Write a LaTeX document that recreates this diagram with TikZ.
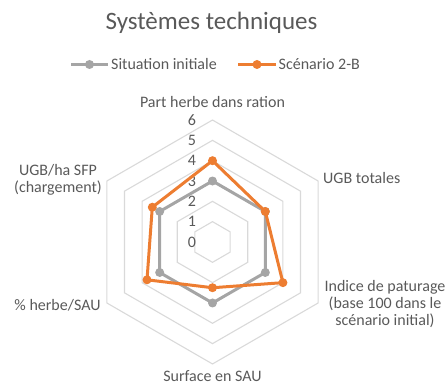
\documentclass[tikz,border=0pt]{standalone}
\usepackage{fontspec}
\setmainfont{Carlito}
\usetikzlibrary{calc}
\definecolor{txt}{HTML}{595959}
\definecolor{grid}{HTML}{D9D9D9}
\definecolor{sinit}{HTML}{A5A5A5}
\definecolor{scen}{HTML}{ED7D31}
\begin{document}
\begin{tikzpicture}[x=1pt,y=1pt,
  lbl/.style={text=txt,font=\fontsize{16}{17}\selectfont,inner sep=0pt,align=center},
  tick/.style={text=txt,font=\fontsize{16}{17}\selectfont,inner sep=0pt},
  gridline/.style={draw=grid,line width=1.1pt,line join=miter},
  series/.style={line width=3pt,line join=round,line cap=round},
  dot/.style={circle,inner sep=0pt,minimum size=9pt}]
\useasboundingbox (0,0) rectangle (448,387);
\def\u{20.33}
\coordinate (o) at (212.5,145);

% grid hexagons
\foreach \k in {1,...,6}
  \draw[gridline] ($(o)+(90:\k*\u)$) -- ($(o)+(30:\k*\u)$) -- ($(o)+(-30:\k*\u)$)
     -- ($(o)+(-90:\k*\u)$) -- ($(o)+(-150:\k*\u)$) -- ($(o)+(150:\k*\u)$) -- cycle;

% radial scale
\foreach \k in {0,...,6}
  \node[tick] (t\k) at ($(o)+(-20.5,\k*\u)$) {\k};

% data series
\foreach \a/\v [count=\i] in {90/3,30/3,-30/3,-90/3,-150/3,150/3}
  \coordinate (g\i) at ($(o)+(\a:\v*\u)$);
\foreach \a/\v [count=\i] in {90/4,30/3,-30/4,-90/2.25,-150/3.72,150/3.42}
  \coordinate (s\i) at ($(o)+(\a:\v*\u)$);

\draw[series,sinit] (g1) -- (g2) -- (g3) -- (g4) -- (g5) -- (g6) -- cycle;
\foreach \i in {1,...,6} \node[dot,fill=sinit] (gm\i) at (g\i) {};
\draw[series,scen] (s1) -- (s2) -- (s3) -- (s4) -- (s5) -- (s6) -- cycle;
\foreach \i in {1,...,6} \node[dot,fill=scen] (sm\i) at (s\i) {};

% category labels
\node[lbl] (c1) at (212.5,285) {Part herbe dans ration};
\node[lbl,anchor=west] (c2) at (323,209) {UGB totales};
\node[lbl] (c3) at (385,83) {Indice de paturage\\(base 100 dans le\\scénario initial)};
\node[lbl] (c4) at (212.5,10.5) {Surface en SAU};
\node[lbl] (c5) at (57.5,82) {\% herbe/SAU};
\node[lbl] (c6) at (58,207) {UGB/ha SFP\\(chargement)};

% title
\node[text=txt,font=\fontsize{25}{29}\selectfont,inner sep=0pt] (title) at (211.5,364) {Systèmes techniques};

% legend
\coordinate (la) at (71,322.5);
\coordinate (lb) at (108,322.5);
\draw[series,sinit,line cap=butt] (la) -- (lb);
\node[dot,fill=sinit] (lm1) at ($(la)!0.5!(lb)$) {};
\node[lbl,anchor=west] (l1) at (111,322.5) {Situation initiale};
\coordinate (lc) at (238,322.5);
\coordinate (ld) at (276,322.5);
\draw[series,scen,line cap=butt] (lc) -- (ld);
\node[dot,fill=scen] (lm2) at ($(lc)!0.5!(ld)$) {};
\node[lbl,anchor=west] (l2) at (278.5,322.5) {Scénario 2-B};
\end{tikzpicture}
\end{document}
